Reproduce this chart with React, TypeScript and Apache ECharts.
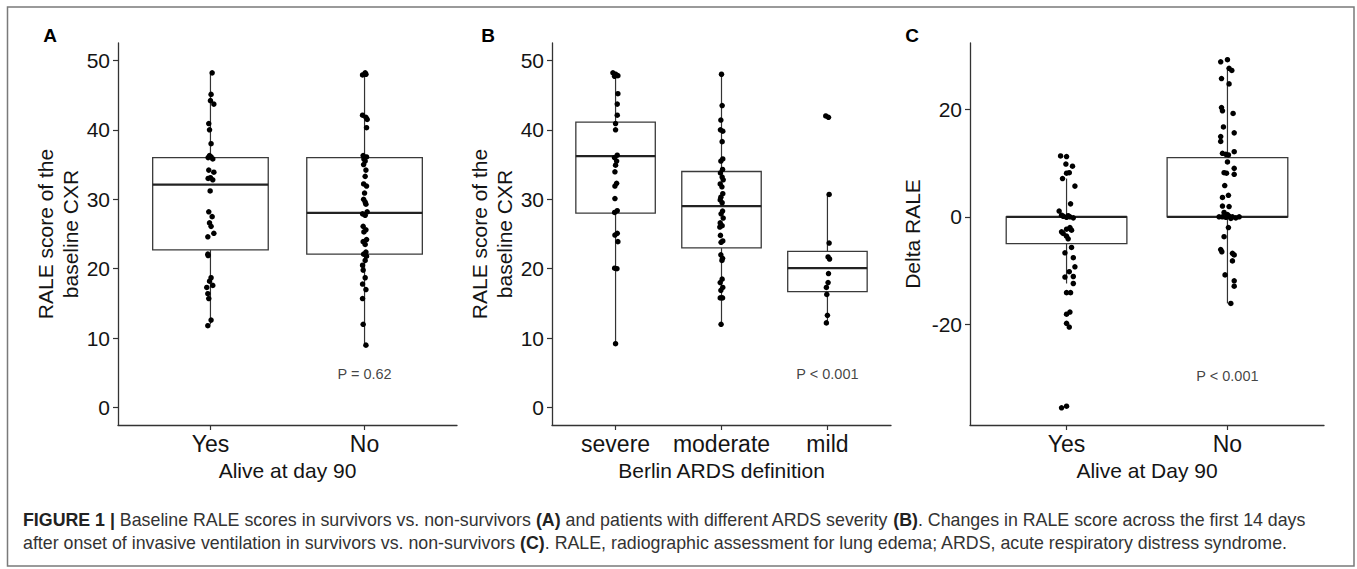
import React, { useEffect, useRef } from "react";
import * as echarts from "echarts";

const FONT = "'Liberation Sans', Arial, Helvetica, sans-serif";
const CAPTION_FONT = "'Liberation Sans', Arial, Helvetica, sans-serif";

// ---------- Panel A: baseline RALE by survival ----------
const catsA = ["Yes", "No"];
// [min, Q1, median, Q3, max]
const boxA = [
  [12, 22.7, 32.1, 36.0, 48.2],
  [9, 22.1, 28.05, 36.0, 48.2],
];
const aYesVals = [48.2, 45.1, 44.2, 43.7, 40.9, 40.0, 38.0, 36.3, 36.1, 35.8, 36.0, 34.2, 33.9, 33.1, 32.8, 33.0, 31.2, 28.2, 27.5, 26.6, 26.1, 25.1, 24.6, 22.1, 21.9, 18.7, 18.2, 17.6, 17.3, 16.4, 15.7, 12.6, 11.8];
const aYesJit = [0.011, 0.004, 0, 0.022, -0.011, -0.006, 0.004, -0.006, 0.004, 0.015, -0.015, -0.011, 0.022, 0, 0.015, -0.015, -0.002, -0.011, 0.011, -0.006, 0.004, 0.022, -0.017, -0.017, -0.015, 0.004, -0.006, 0.015, -0.024, -0.017, -0.011, 0.004, -0.017];
const aNoVals = [48.2, 47.9, 48.0, 42.1, 41.8, 41.5, 40.3, 36.3, 36.1, 35.8, 35.5, 35.0, 34.2, 33.3, 32.2, 31.9, 30.9, 30.0, 29.6, 29.3, 28.2, 27.9, 27.7, 26.1, 25.6, 25.3, 24.2, 23.9, 23.5, 22.4, 22.1, 21.8, 21.2, 20.5, 19.8, 18.7, 17.8, 17.0, 15.7, 12.0, 9.0];
const aNoJit = [0.004, -0.013, 0.009, -0.013, 0.009, 0.017, 0.013, -0.009, 0.013, -0.004, 0.004, -0.006, 0.009, 0.004, -0.006, 0.013, 0, -0.006, 0.004, 0.009, 0.017, -0.013, 0.004, -0.009, 0.009, -0.004, 0.013, -0.009, 0.004, 0.009, -0.006, 0.013, 0.004, -0.013, -0.009, 0.004, -0.013, 0.009, -0.013, -0.009, 0.009];

// ---------- Panel B: baseline RALE by Berlin ARDS severity ----------
const catsB = ["severe", "moderate", "mild"];
const boxB = [
  [9.2, 28.0, 36.2, 41.1, 48.1],
  [12.1, 23.0, 29.0, 34.0, 48.0],
  [12.2, 16.7, 20.1, 22.5, 30.7],
];
const bSevereVals = [48.2, 48.0, 47.8, 47.7, 45.2, 43.7, 42.1, 40.9, 40.0, 36.35, 36.0, 35.5, 34.9, 33.95, 32.3, 31.9, 30.1, 28.35, 28.1, 25.1, 24.85, 23.9, 20.07, 20.0, 9.2];
const bSevereJit = [-0.025, 0, 0.022, -0.009, 0.022, 0.016, 0.016, 0, 0, 0.016, -0.01, 0.01, 0, -0.006, 0.01, -0.006, -0.006, 0.016, -0.009, 0.016, -0.006, 0.022, -0.009, 0.013, 0];
const bModVals = [48.0, 43.5, 41.4, 40.0, 39.8, 38.3, 35.8, 35.5, 34.3, 33.8, 33.2, 32.8, 32.2, 31.8, 30.8, 30.3, 29.9, 29.5, 28.3, 27.9, 27.3, 26.6, 26.2, 26.0, 24.8, 24.0, 23.8, 22.0, 21.5, 21.2, 18.5, 18.0, 17.3, 16.9, 15.8, 15.8, 12.0];
const bModJit = [0, 0.006, -0.006, -0.01, 0.012, 0.006, 0.012, -0.006, 0.01, -0.01, 0.006, 0.016, -0.012, 0.004, 0.012, -0.006, -0.012, 0.006, 0.01, -0.004, 0.016, -0.012, 0.006, -0.016, -0.01, 0.012, -0.004, -0.006, 0.01, 0.004, 0.006, -0.012, 0.012, -0.006, -0.012, 0.01, -0.004];
const bMildVals = [42.0, 41.8, 30.7, 23.7, 21.7, 21.4, 19.3, 18.0, 17.3, 16.3, 13.3, 12.2];
const bMildJit = [-0.016, 0.01, 0.016, 0.016, 0.006, 0.02, 0.01, 0.006, -0.01, -0.006, 0, -0.01];

// ---------- Panel C: delta RALE by survival ----------
const catsC = ["Yes", "No"];
const boxC = [
  [-12.4, -5.0, 0, 0, 7.1],
  [-16.1, 0, 0, 11.0, 27.3],
];
const cYesVals = [11.3, 11.2, 9.8, 9.4, 8.2, 8.1, 7.1, 5.7, 2.4, 1.06, 0.3, 0.1, -0.1, 0, -0.2, 0.2, -2.0, -2.3, -2.5, -2.8, -3.1, -3.6, -4.1, -5.7, -6.7, -7.6, -9.3, -10.2, -11.2, -11.1, -12.4, -14.1, -14.1, -17.7, -18.1, -19.8, -20.5, -35.5, -35.2];
const cYesJit = [-0.037, 0, -0.004, 0.037, 0.017, 0, -0.025, 0.052, 0.025, -0.046, -0.031, -0.021, 0, 0.021, 0.042, 0.01, 0.021, 0, 0.031, -0.031, -0.021, 0, 0.01, 0.031, -0.01, 0.042, 0.052, 0.017, -0.01, 0.042, 0.042, 0, 0.025, 0.021, 0, 0, 0.017, -0.031, 0];
const cNoVals = [28.8, 29.2, 27.6, 27.2, 25.7, 24.7, 20.3, 19.7, 19.2, 16.7, 15.6, 14.9, 14.0, 11.8, 11.6, 11.5, 12.1, 10.2, 8.2, 8.1, 9.0, 7.9, 5.8, 4.0, 3.6, 2.0, 1.9, 0, 0, -0.1, 0.1, 0, -0.2, 0, 0.8, 0.4, -0.3, -2.0, -3.7, -6.1, -6.5, -6.8, -7.1, -8.2, -10.8, -11.9, -12.9, -16.1];
const cNoJit = [-0.042, 0, 0.01, 0.027, -0.037, 0.01, -0.037, -0.031, 0.035, -0.025, 0.042, -0.042, -0.042, -0.031, -0.01, 0.006, 0.042, 0, -0.021, -0.006, 0.042, 0.042, -0.017, 0.006, -0.031, -0.031, 0.01, -0.052, -0.031, -0.01, 0.01, 0.031, 0.052, 0.073, -0.021, 0, 0.021, 0.006, -0.021, -0.042, -0.035, 0.031, 0.042, 0.031, -0.015, 0.042, 0.042, 0.021];

const ticksAB = [0, 10, 20, 30, 40, 50];
const ticksC = [-20, 0, 20];

const pLabels = ["P = 0.62", "P < 0.001", "P < 0.001"];

const CAPTION =
  "{b|FIGURE 1 |} Baseline RALE scores in survivors vs. non-survivors {b|(A)} and patients with different ARDS severity {b|(B)}. Changes in RALE score across the first 14 days\n" +
  "after onset of invasive ventilation in survivors vs. non-survivors {b|(C)}. RALE, radiographic assessment for lung edema; ARDS, acute respiratory distress syndrome.";

const AXIS_COLOR = "#333";
const TEXT_COLOR = "#141414";

function jitter(vals: number[], offs: number[], pos: number) {
  return vals.map((v, i) => [pos + offs[i], v]);
}

function boxRender(params: any, api: any) {
  const x = api.value(0);
  const lo = api.value(1);
  const q1 = api.value(2);
  const med = api.value(3);
  const q3 = api.value(4);
  const hi = api.value(5);
  const half = 0.375;
  const tl = api.coord([x - half, q3]);
  const br = api.coord([x + half, q1]);
  const mL = api.coord([x - half, med]);
  const mR = api.coord([x + half, med]);
  const pHi = api.coord([x, hi]);
  const pQ3 = api.coord([x, q3]);
  const pQ1 = api.coord([x, q1]);
  const pLo = api.coord([x, lo]);
  return {
    type: "group",
    children: [
      { type: "line", shape: { x1: pHi[0], y1: pHi[1], x2: pQ3[0], y2: pQ3[1] }, style: { stroke: "#333", lineWidth: 1.2 } },
      { type: "line", shape: { x1: pQ1[0], y1: pQ1[1], x2: pLo[0], y2: pLo[1] }, style: { stroke: "#333", lineWidth: 1.2 } },
      { type: "rect", shape: { x: tl[0], y: tl[1], width: br[0] - tl[0], height: br[1] - tl[1] }, style: { fill: "#fff", stroke: "#3a3a3a", lineWidth: 1.3 } },
      { type: "line", shape: { x1: mL[0], y1: mL[1], x2: mR[0], y2: mR[1] }, style: { stroke: "#222", lineWidth: 2.2 } },
    ],
  };
}

function makeXAxis(gridIndex: number, cats: string[], name: string) {
  const vals = cats.map((_, i) => i + 1);
  return {
    type: "value",
    gridIndex,
    min: 0.4,
    max: cats.length + 0.6,
    name,
    nameLocation: "middle",
    nameGap: 32,
    nameTextStyle: { fontFamily: FONT, fontSize: 21, color: TEXT_COLOR },
    axisLine: { show: true, onZero: false, lineStyle: { color: AXIS_COLOR, width: 1.3 } },
    axisTick: { show: true, customValues: vals, length: 5, lineStyle: { color: AXIS_COLOR, width: 1.2 } },
    axisLabel: {
      customValues: vals,
      formatter: (v: number) => cats[Math.round(v) - 1] ?? "",
      fontFamily: FONT,
      fontSize: 23,
      color: TEXT_COLOR,
      margin: 7,
    },
    splitLine: { show: false },
  };
}

function makeYAxis(gridIndex: number, min: number, max: number, ticks: number[], name: string) {
  return {
    type: "value",
    gridIndex,
    min,
    max,
    name,
    nameLocation: "middle",
    nameRotate: 90,
    nameGap: name.includes("\n") ? 33 : 45,
    nameTextStyle: { fontFamily: FONT, fontSize: 21, lineHeight: 25, color: TEXT_COLOR },
    axisLine: { show: true, onZero: false, lineStyle: { color: AXIS_COLOR, width: 1.3 } },
    axisTick: { show: true, customValues: ticks, length: 5, lineStyle: { color: AXIS_COLOR, width: 1.2 } },
    axisLabel: { customValues: ticks, fontFamily: FONT, fontSize: 21, color: TEXT_COLOR, margin: 8 },
    splitLine: { show: false },
  };
}

function pointSeries(idx: number, data: number[][]) {
  return {
    type: "scatter",
    xAxisIndex: idx,
    yAxisIndex: idx,
    data,
    symbolSize: 5.5,
    itemStyle: { color: "#000", opacity: 1 },
    z: 5,
    silent: true,
  };
}

function boxSeries(idx: number, boxes: number[][]) {
  return {
    type: "custom",
    xAxisIndex: idx,
    yAxisIndex: idx,
    renderItem: boxRender,
    encode: { x: 0, y: [1, 2, 3, 4, 5] },
    data: boxes.map((b, i) => [i + 1, ...b]),
    z: 2,
    silent: true,
  };
}

function pSeries(idx: number, x: number, y: number, text: string) {
  return {
    type: "scatter",
    xAxisIndex: idx,
    yAxisIndex: idx,
    data: [[x, y]],
    symbolSize: 1,
    itemStyle: { color: "rgba(0,0,0,0)" },
    label: { show: true, position: "inside", formatter: text, fontFamily: FONT, fontSize: 14.5, color: "#111" },
    silent: true,
    z: 6,
  };
}

export default function App() {
  const ref = useRef<HTMLDivElement>(null);
  useEffect(() => {
    if (!ref.current) return;
    const chart = echarts.init(ref.current, undefined, { renderer: "svg" });
    const option: any = {
      animation: false,
      backgroundColor: "#fff",
      grid: [
        { left: 118, top: 43, width: 339, height: 382 },
        { left: 552, top: 43, width: 339, height: 382 },
        { left: 970, top: 43, width: 354, height: 382 },
      ],
      xAxis: [
        makeXAxis(0, catsA, "Alive at day 90"),
        makeXAxis(1, catsB, "Berlin ARDS definition"),
        makeXAxis(2, catsC, "Alive at Day 90"),
      ],
      yAxis: [
        makeYAxis(0, -2.5, 52.5, ticksAB, "RALE score of the\nbaseline CXR"),
        makeYAxis(1, -2.5, 52.5, ticksAB, "RALE score of the\nbaseline CXR"),
        makeYAxis(2, -38.7, 32.3, ticksC, "Delta RALE"),
      ],
      series: [
        boxSeries(0, boxA),
        boxSeries(1, boxB),
        boxSeries(2, boxC),
        pointSeries(0, jitter(aYesVals, aYesJit, 1)),
        pointSeries(0, jitter(aNoVals, aNoJit, 2)),
        pointSeries(1, jitter(bSevereVals, bSevereJit, 1)),
        pointSeries(1, jitter(bModVals, bModJit, 2)),
        pointSeries(1, jitter(bMildVals, bMildJit, 3)),
        pointSeries(2, jitter(cYesVals, cYesJit, 1)),
        pointSeries(2, jitter(cNoVals, cNoJit, 2)),
        pSeries(0, 2, 4.8, pLabels[0]),
        pSeries(1, 3, 4.8, pLabels[1]),
        pSeries(2, 2, -29.5, pLabels[2]),
      ],
      graphic: [
        {
          type: "rect",
          shape: { x: 7.5, y: 7, width: 1346.5, height: 559 },
          style: { fill: "none", stroke: "#7a7a7a", lineWidth: 1.5 },
          silent: true,
        },
        { type: "text", x: 50, y: 35, style: { text: "A", fontFamily: FONT, fontSize: 19, fontWeight: "bold", fill: "#000", align: "center", verticalAlign: "middle" } },
        { type: "text", x: 488, y: 35, style: { text: "B", fontFamily: FONT, fontSize: 19, fontWeight: "bold", fill: "#000", align: "center", verticalAlign: "middle" } },
        { type: "text", x: 912, y: 35, style: { text: "C", fontFamily: FONT, fontSize: 19, fontWeight: "bold", fill: "#000", align: "center", verticalAlign: "middle" } },
        {
          type: "text",
          x: 23,
          y: 508,
          style: {
            text: CAPTION,
            fontFamily: CAPTION_FONT,
            fontSize: 17.8,
            lineHeight: 23,
            fill: "#333",
            rich: {
              b: { fontFamily: CAPTION_FONT, fontSize: 17.8, fontWeight: "bold", fill: "#222", lineHeight: 23 },
            },
          },
        },
      ],
    };
    chart.setOption(option);
    return () => chart.dispose();
  }, []);
  return (
    <div
      ref={ref}
      style={{ position: "absolute", left: 0, top: 0, width: 1357, height: 569 }}
    />
  );
}
